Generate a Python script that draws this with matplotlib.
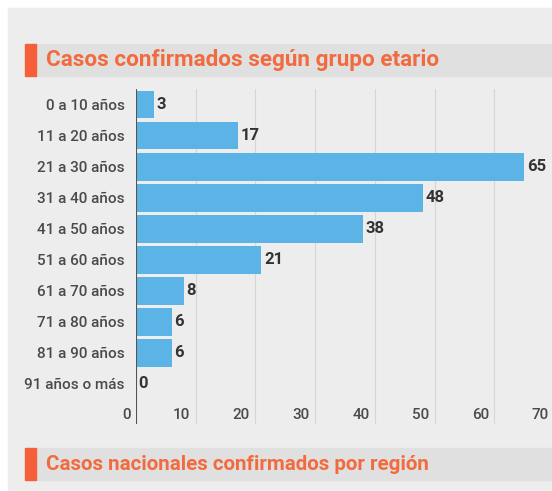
import matplotlib.pyplot as plt
from matplotlib.patches import Rectangle

# data
groups = ['0 a 10 años', '11 a 20 años', '21 a 30 años', '31 a 40 años', '41 a 50 años',
          '51 a 60 años', '61 a 70 años', '71 a 80 años', '81 a 90 años', '91 años o más']
cases = [3, 17, 65, 48, 38, 21, 8, 6, 6, 0]
xticks = [0, 10, 20, 30, 40, 50, 60, 70]
title = 'Casos confirmados según grupo etario'
next_title = 'Casos nacionales confirmados por región'

W, H = 552, 491
plt.rcParams['font.family'] = ['Roboto', 'DejaVu Sans']

fig = plt.figure(figsize=(W / 100, H / 100), dpi=100, facecolor='white')


def box(x0, y0, x1, y1):
    # pixel box (top-left origin) -> figure fraction
    return (x0 / W, 1 - y1 / H), (x1 - x0) / W, (y1 - y0) / H


def add_rect(x0, y0, x1, y1, color):
    xy, w, h = box(x0, y0, x1, y1)
    fig.add_artist(Rectangle(xy, w, h, transform=fig.transFigure, color=color, zorder=-10))


# page background and section headers
add_rect(8, 8, W, H, '#ededed')
for top, text, size in [(44, title, 16.2), (448, next_title, 14.8)]:
    add_rect(35, top, W, top + 32, '#e0e0e0')
    add_rect(25, top, 36, top + 32, '#f5603a')
    fig.text(46 / W, 1 - (top + 16) / H, text, color='#f26b3f', fontsize=size,
             fontweight='bold', va='center', ha='left')

# chart
(ax_x, ax_y), ax_w, ax_h = box(136, 89, 554, 424)
ax = fig.add_axes([ax_x, ax_y, ax_w, ax_h], zorder=5)
ax.set_facecolor('none')
ax.set_xlim(0, 70)
ax.set_ylim(10.3, -0.5)

tick_style = dict(ha='right', va='center', fontsize=11, color='#4a4a4a', fontweight='medium')
for t in xticks[1:]:
    ax.axvline(t, color='#d6d6d6', lw=0.8, zorder=0)
    ax.text(t - 0.9, 10.0, str(t), **tick_style)
ax.text(-0.9, 10.0, '0', **tick_style)
ax.axvline(0, color='#555555', lw=1.5, zorder=3)

y = range(len(groups))
ax.barh(y, cases, height=0.9, color='#5bb4e5', zorder=2)
for i, v in enumerate(cases):
    ax.text(v + 0.45, i, str(v), ha='left', va='center', fontsize=12,
            fontweight='bold', color='#333333')

ax.set_yticks(list(y))
ax.set_yticklabels(groups, fontsize=11, color='#4a4a4a', fontweight='medium')
ax.tick_params(axis='y', length=0, pad=8)
ax.set_xticks([])
for s in ax.spines.values():
    s.set_visible(False)

fig.savefig('out.png', dpi=100, facecolor=fig.get_facecolor())
